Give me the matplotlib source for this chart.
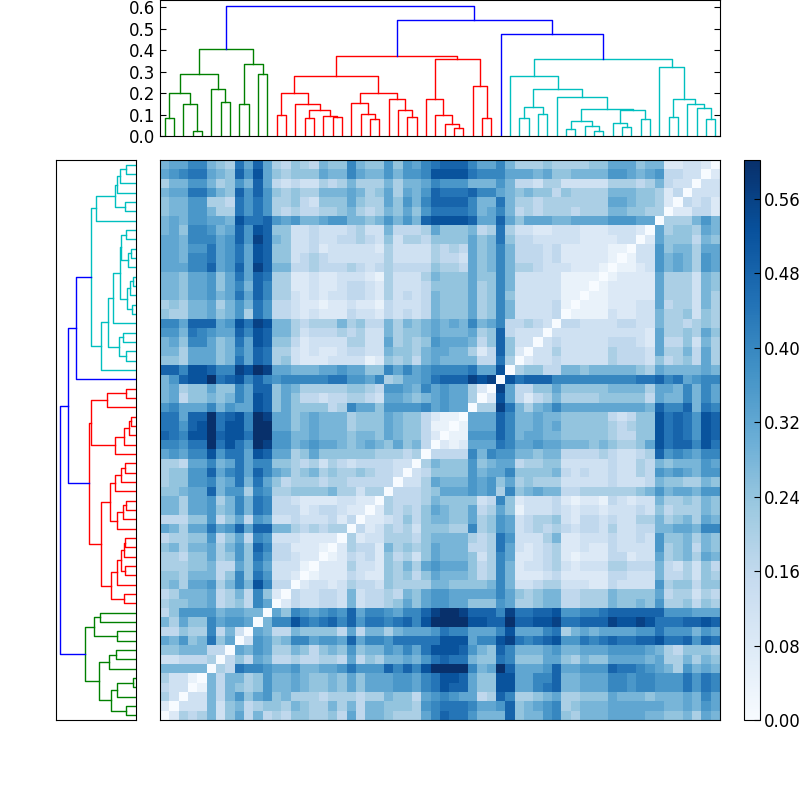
import numpy as np
import matplotlib
matplotlib.use('Agg')
import matplotlib.pyplot as plt

plt.rcParams['xtick.direction'] = 'in'
plt.rcParams['ytick.direction'] = 'in'
plt.rcParams['ytick.major.size'] = 4
plt.rcParams['font.size'] = 12

# distances in steps of 0.04, one hex digit per cell
# rows from the top of the heatmap, columns from the left up to the diagonal
rows_top = [
    "788aa765b8 c854654766 a7669698ab ccca88a755 5655556688 867722332",
    "89abb876c9 d865666877 a8779799ad dddbaaa888 7866777799 87894433",
    "5779975697 c843433545 755575778a 9997779744 3553333355 5457433",
    "788bb976c9 c965655777 875685879c bbbcaa8767 6646555577 766524",
    "67799554b9 b955643666 86558697ac ccca77b755 4555555588 76652",
    "67799755b9 b954544556 754576869b bbba78a745 4555455577 6655",
    "78799887db bc98977899 77679797cd dddc88c868 8877888899 988",
    "786aa978c9 dc66334333 4533744458 666745b533 2233322233 32",
    "887aaa89c9 ec76334334 4543635546 666867b644 3333322223 3",
    "88799b89b8 dc66334233 3332533335 454867a744 4342222211",
    "887aab89b8 dc66345433 3333533335 443867a744 434222221",
    "888aac89c8 ec77445444 5434544446 554867a755 43332221",
    "77688968b8 cb55223223 3321533357 666866a733 3331111",
    "77688968a7 ca55223223 4432533346 666856a733 333111",
    "77688978b8 ca55323233 4432534347 666856a633 33311",
    "5657785797 b944322122 3221433347 666856a733 3341",
    "6557786795 b944323222 4332434347 666856a733 334",
    "aa8ccc89db ed77545557 5644757678 787a78a445 43",
    "997ba988ca dc77534445 4533756678 777856c433 3",
    "786aa867b8 dc66423333 5533856569 888746c633",
    "77588867a8 cb55323223 4433766578 877524c62",
    "66588867b8 cb56322233 3312656478 777744b5",
    "ccaddcaaed fe88777889 8866a8a89a aaab88d",
    "79cddfbcda ca9aaaaabb 998a56889b cccede",
    "78566866a8 cc68755555 66549987a8 98852",
    "78466767a8 dc68644344 5543887678 9885",
    "9a888a7988 dc68666645 a8869999a8 988",
    "bb8ccfbcda fe88678777 5666876642 11",
    "bb9cdfbdda ff88678777 5666876641 1",
    "cbaddfcddb ff99778777 6776876642",
]
rows_bottom = [
    "aa9bbfbdb9 fe99789887 678768674",
    "898aad9bb8 dc88568666 66655545",
    "55488a78b8 aa66545354 3444433",
    "56699c8ab8 ca87567565 565443",
    "56699a78b7 b864555455 44444",
    "66788c7995 a955666675 5355",
    "77588957a7 ba44322223 322",
    "77588967a7 ba44423443 22",
    "4446694684 9833433342 4",
    "87588b89c8 cc77545455",
    "4556694684 a93332222",
    "6757785796 ca44222 1",
    "5546685696 b944322",
    "5556674486 a83331",
    "66577746a6 b9332",
    "67588957a7 da44",
    "4577784574 a62",
    "5667784564 a8",
    "4699997887 7",
    "75866a8998",
    "44655a473",
    "87967b68",
    "6677744",
    "334445",
    "77777",
    "5331",
    "433",
    "53",
    "2",
    "",
]

# merges as (height, left, right), plain ints are leaves
green = (0.405,
         (0.29,
          (0.198, (0.082, 0, 1), (0.15, 2, (0.025, 3, 4))),
          (0.217, 5, (0.157, 6, 7))),
         (0.333, (0.15, 8, 9), (0.287, 10, 11)))
red = (0.372,
       (0.278,
        (0.198,
         (0.098, 12, 13),
         (0.147, 14, (0.119, (0.085, 15, 16), (0.091, 17, (0.088, 18, 19))))),
        (0.202,
         (0.152, 20, (0.102, 21, (0.078, 22, 23))),
         (0.17, 24, (0.121, 25, (0.087, 26, 27))))),
       (0.358,
        (0.17, 28, (0.096, 29, (0.057, 30, (0.037, 31, 32)))),
        (0.233, 33, (0.082, 34, 35))))
cyan = (0.36,
        (0.278,
         37,
         (0.22,
          (0.133, (0.082, 38, 39), (0.102, 40, 41)),
          (0.181,
           42,
           (0.127,
            (0.068, (0.033, 43, 44), (0.048, 45, (0.025, 46, 47))),
            (0.121, (0.062, 48, (0.04, 49, 50)), (0.078, 51, 52)))))),
        (0.319,
         53,
         (0.17, (0.09, 54, 55), (0.149, 56, (0.129, 57, (0.081, 58, 59))))))
root = (0.605, green, (0.541, red, (0.473, 36, cyan)))

vmax = 0.602
n = 60
colorbar_ticks = [0.0, 0.08, 0.16, 0.24, 0.32, 0.40, 0.48, 0.56]
height_ticks = [0.0, 0.1, 0.2, 0.3, 0.4, 0.5, 0.6]

D = np.zeros((n, n))
for t, row in enumerate(rows_top):
    vals = row.replace(" ", "")
    for j, c in enumerate(vals):
        D[n - 1 - t, j] = int(c, 16) * 0.04
        D[j, n - 1 - t] = D[n - 1 - t, j]
for t, row in enumerate(rows_bottom):
    vals = row.replace(" ", "")
    for j, c in enumerate(vals):
        D[29 - t, j] = int(c, 16) * 0.04
        D[j, 29 - t] = D[29 - t, j]


def draw_tree(ax, node, color, flip=False):
    # returns (leaf position, height) of the node
    if isinstance(node, int):
        return node + 0.5, 0.0
    if node is green:
        color = 'g'
    if node is red:
        color = 'r'
    if node is cyan:
        color = 'c'
    h, left, right = node
    x1, h1 = draw_tree(ax, left, color, flip)
    x2, h2 = draw_tree(ax, right, color, flip)
    if flip:
        ax.plot([h1, h, h, h2], [x1, x1, x2, x2], color=color, lw=1)
    else:
        ax.plot([x1, x1, x2, x2], [h1, h, h, h2], color=color, lw=1)
    return (x1 + x2) / 2, h


fig = plt.figure(figsize=(8, 8), dpi=100)

ax_left = fig.add_axes([0.07, 0.1, 0.1, 0.7])
draw_tree(ax_left, root, 'b', flip=True)
ax_left.set_xlim(0.633, 0)
ax_left.set_ylim(0, n)
ax_left.set_xticks([])
ax_left.set_yticks([])

ax_top = fig.add_axes([0.2, 0.83, 0.7, 0.17])
draw_tree(ax_top, root, 'b')
ax_top.set_xlim(0, n)
ax_top.set_ylim(0, 0.633)
ax_top.set_xticks([])
ax_top.set_yticks(height_ticks)
ax_top.tick_params(right=True)

ax = fig.add_axes([0.2, 0.1, 0.7, 0.7])
im = ax.imshow(D, cmap='Blues', origin='lower', aspect='auto',
               interpolation='nearest', vmin=0, vmax=vmax)
ax.set_xticks([])
ax.set_yticks([])

cax = fig.add_axes([0.93, 0.1, 0.02, 0.7])
cb = fig.colorbar(im, cax=cax, ticks=colorbar_ticks)
cb.ax.set_yticklabels(['%.2f' % t for t in colorbar_ticks])
cb.ax.tick_params(pad=2.5)

fig.savefig('out.png', dpi=100)
